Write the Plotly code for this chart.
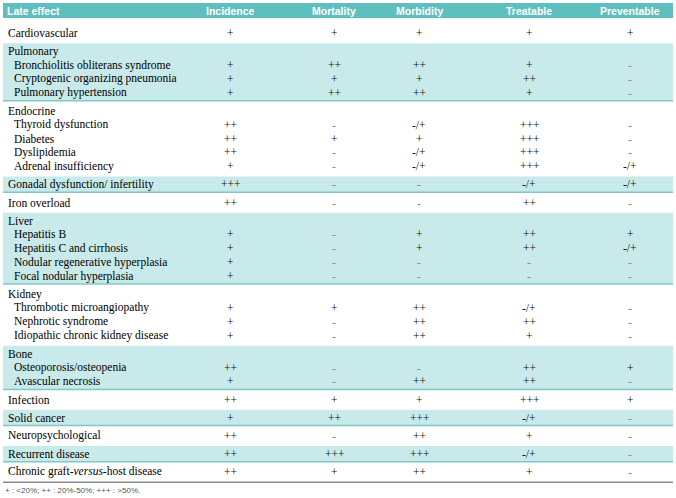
import plotly.graph_objects as go

# ---------------- data ----------------
columns = ["Incidence", "Mortality", "Morbidity", "Treatable", "Preventable"]

group_names = [
    "Cardiovascular", "Pulmonary", "Endocrine", "Gonadal dysfunction/ infertility",
    "Iron overload", "Liver", "Kidney", "Bone", "Infection", "Solid cancer",
    "Neuropsychological", "Recurrent disease", "Chronic graft-<i>versus</i>-host disease",
]
group_items = [
    [],
    ["Bronchiolitis obliterans syndrome", "Cryptogenic organizing pneumonia", "Pulmonary hypertension"],
    ["Thyroid dysfunction", "Diabetes", "Dyslipidemia", "Adrenal insufficiency"],
    [],
    [],
    ["Hepatitis B", "Hepatitis C and cirrhosis", "Nodular regenerative hyperplasia", "Focal nodular hyperplasia"],
    ["Thrombotic microangiopathy", "Nephrotic syndrome", "Idiopathic chronic kidney disease"],
    ["Osteoporosis/osteopenia", "Avascular necrosis"],
    [], [], [], [], [],
]

# one entry per row that carries values (in table order)
incidence = ["+", "+", "+", "+", "++", "++", "++", "+", "+++", "++", "+", "+", "+", "+",
             "+", "+", "+", "++", "+", "++", "+", "++", "++", "++"]
mortality = ["+", "++", "+", "++", "-", "+", "-", "-", "-", "-", "-", "-", "-", "-",
             "+", "-", "-", "-", "-", "+", "++", "-", "+++", "+"]
morbidity = ["+", "++", "+", "++", "-/+", "+", "-/+", "-/+", "-", "-", "+", "+", "-", "-",
             "++", "++", "++", "-", "++", "+", "+++", "++", "+++", "++"]
treatable = ["+", "+", "++", "+", "+++", "+++", "+++", "+++", "-/+", "++", "++", "++", "-", "-",
             "-/+", "++", "+", "++", "++", "+++", "-/+", "+", "-/+", "+"]
preventable = ["+", "-", "-", "-", "-", "-", "-", "-/+", "-/+", "-", "+", "-/+", "-", "-",
               "-", "-", "-", "+", "-", "+", "-", "-", "-", "-"]

header_label = "Late effect"
footnote = "+ : <20%; ++ : 20%-50%; +++ : >50%."

# ---------------- layout constants ----------------
W, H = 676, 498
X0, X1 = 3, 673
HEADER_TOP, HEADER_BOT = 3, 18
TABLE_TOP = 23
LINE = 13.85
PAD_SHADED = 2.0
PAD_WHITE = 6.5
COL_X = [230, 334, 419, 529, 630]
LABEL_X = 6
ITEM_X = 12
HEADER_FILL = "#5fbfbf"
SHADE_FILL = "#c8eaea"
SEP_COLOR = "#80c8c8"
BOTTOM_COLOR = "#8a8a8a"
SERIF = "Liberation Serif, Times New Roman, serif"
SANS = "Liberation Sans, Arial, sans-serif"
BODY_SIZE = 11.5

value_cols = [incidence, mortality, morbidity, treatable, preventable]

shapes = []
annotations = []

# header
shapes.append(dict(type="rect", xref="x", yref="y", x0=X0, x1=X1, y0=HEADER_TOP, y1=HEADER_BOT,
                   fillcolor=HEADER_FILL, line=dict(width=0), layer="below"))
hy = (HEADER_TOP + HEADER_BOT) / 2
annotations.append(dict(x=5, y=hy, xref="x", yref="y", text="<b>" + header_label + "</b>",
                        xanchor="left", yanchor="middle", showarrow=False,
                        font=dict(family=SANS, size=10.5, color="white")))
for cx, name in zip(COL_X, columns):
    annotations.append(dict(x=cx, y=hy, xref="x", yref="y", text="<b>" + name + "</b>",
                            xanchor="center", yanchor="middle", showarrow=False,
                            font=dict(family=SANS, size=10.5, color="white")))

# body
y = TABLE_TOP
vi = 0
for gi, (gname, items) in enumerate(zip(group_names, group_items)):
    shaded = gi % 2 == 1
    pad = PAD_SHADED if shaded else PAD_WHITE
    n = 1 + len(items)
    top = y
    bot = y + n * LINE + pad
    if shaded:
        shapes.append(dict(type="rect", xref="x", yref="y", x0=X0, x1=X1, y0=top, y1=bot,
                           fillcolor=SHADE_FILL, line=dict(width=0), layer="below"))
        shapes.append(dict(type="line", xref="x", yref="y", x0=X0, x1=X1, y0=bot, y1=bot,
                           line=dict(color=SEP_COLOR, width=1.5)))
    line_y = [top + pad / 2 + LINE / 2 + k * LINE for k in range(n)]
    annotations.append(dict(x=LABEL_X, y=line_y[0], xref="x", yref="y", text=gname,
                            xanchor="left", yanchor="middle", showarrow=False,
                            font=dict(family=SERIF, size=BODY_SIZE, color="#000000")))
    value_rows = line_y[1:] if items else line_y[:1]
    for k, it in enumerate(items):
        annotations.append(dict(x=ITEM_X, y=line_y[k + 1], xref="x", yref="y", text=it,
                                xanchor="left", yanchor="middle", showarrow=False,
                                font=dict(family=SERIF, size=BODY_SIZE, color="#000000")))
    for ry in value_rows:
        for cx, col in zip(COL_X, value_cols):
            v = col[vi]
            annotations.append(dict(x=cx, y=ry, xref="x", yref="y", text=v,
                                    xanchor="center", yanchor="middle", showarrow=False,
                                    font=dict(family=SERIF, size=BODY_SIZE,
                                              color="#8c8c8c" if v == "-" else "#111111")))
        vi += 1
    y = bot

shapes.append(dict(type="line", xref="x", yref="y", x0=X0, x1=X1, y0=y, y1=y,
                   line=dict(color=BOTTOM_COLOR, width=1.5)))

annotations.append(dict(x=3, y=y + 8, xref="x", yref="y", text=footnote,
                        xanchor="left", yanchor="middle", showarrow=False,
                        font=dict(family=SANS, size=8, color="#555555")))

fig = go.Figure()
fig.add_trace(go.Scatter(x=[0, W], y=[0, H], mode="markers", marker=dict(opacity=0),
                         hoverinfo="skip", showlegend=False))
fig.update_layout(
    width=W, height=H, margin=dict(l=0, r=0, t=0, b=0),
    paper_bgcolor="white", plot_bgcolor="white",
    xaxis=dict(range=[0, W], visible=False, fixedrange=True),
    yaxis=dict(range=[H, 0], visible=False, fixedrange=True),
    shapes=shapes, annotations=annotations, showlegend=False,
)
fig.write_html("out.html", config={"displayModeBar": False},
               post_script="document.body.style.margin='0';document.body.style.overflow='hidden';")
